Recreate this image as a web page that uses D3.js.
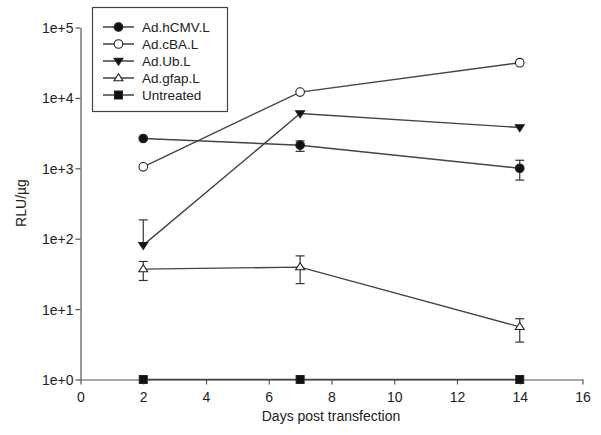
<!DOCTYPE html>
<html><head><meta charset="utf-8">
<script src="https://cdn.jsdelivr.net/npm/d3@7"></script>
<style>body{margin:0;background:#fff}svg{display:block}text{font-family:"Liberation Sans",Arial,sans-serif;fill:#222}</style>
</head><body><svg id="c" width="601" height="435"></svg>
<script>
const days = [2, 7, 14];
const seriesNames = ["Ad.hCMV.L", "Ad.cBA.L", "Ad.Ub.L", "Ad.gfap.L", "Untreated"];
const hCMV = [2650, 2130, 1000];
const hCMVLo = [2650, 1740, 680];
const hCMVHi = [2650, 2450, 1300];
const cBA = [1050, 12100, 31600];
const Ub = [81, 6000, 3800];
const UbLo = [81, 6000, 3800];
const UbHi = [185, 6000, 3800];
const gfap = [37, 39.5, 5.6];
const gfapLo = [25.5, 23, 3.4];
const gfapHi = [47.5, 57, 7.3];
const untreated = [1, 1, 1];
const xTicks = [0, 2, 4, 6, 8, 10, 12, 14, 16];
const yTicks = [1, 10, 100, 1000, 10000, 100000];
const yTickLabels = ["1e+0", "1e+1", "1e+2", "1e+3", "1e+4", "1e+5"];

const series = [
  {name: seriesNames[0], v: hCMV, lo: hCMVLo, hi: hCMVHi, sym: "circle", fill: "#111"},
  {name: seriesNames[1], v: cBA, sym: "circle", fill: "#fff"},
  {name: seriesNames[2], v: Ub, lo: UbLo, hi: UbHi, sym: "tridown", fill: "#111"},
  {name: seriesNames[3], v: gfap, lo: gfapLo, hi: gfapHi, sym: "triup", fill: "#fff"},
  {name: seriesNames[4], v: untreated, sym: "square", fill: "#111"}
];

const svg = d3.select("#c");
const x = d3.scaleLinear().domain([0, 16]).range([80.5, 582.5]);
const y = d3.scaleLog().domain([1, 100000]).range([379.5, 27.5]);

const xAxis = svg.append("g").attr("transform", "translate(0,379.5)")
  .call(d3.axisBottom(x).tickValues(xTicks).tickFormat(d3.format("d")).tickSize(5).tickSizeOuter(0));
const yAxis = svg.append("g").attr("transform", "translate(80.5,0)")
  .call(d3.axisLeft(y).tickValues(yTicks).tickFormat((d, i) => yTickLabels[i]).tickSize(5).tickSizeOuter(0));
[xAxis, yAxis].forEach(a => {
  a.selectAll("path,line").attr("stroke", "#555").attr("stroke-width", 1.2);
  a.selectAll("text").attr("font-size", 14).attr("fill", "#333").attr("font-family", "Liberation Sans, Arial, sans-serif");
});
xAxis.selectAll("text").attr("dy", "1.05em");
yAxis.selectAll("text").attr("dy", "0.35em").attr("x", -7);

svg.append("text").attr("x", 331).attr("y", 421).attr("text-anchor", "middle").attr("font-size", 14).attr("fill", "#333").text("Days post transfection");
svg.append("text").attr("transform", "translate(26,203) rotate(-90)").attr("text-anchor", "middle").attr("font-size", 14).attr("fill", "#333").text("RLU/µg");

function marker(g, sym, fill, cx, cy) {
  if (sym === "circle") {
    g.append("circle").attr("cx", cx).attr("cy", cy).attr("r", 4.3).attr("fill", fill).attr("stroke", "#222").attr("stroke-width", 1.1);
  } else if (sym === "square") {
    g.append("rect").attr("x", cx - 4).attr("y", cy - 4).attr("width", 8).attr("height", 8).attr("fill", fill).attr("stroke", "#222");
  } else {
    const s = 4.5, dir = sym === "triup" ? -1 : 1;
    const p = [[cx - s, cy - dir * s * 0.6], [cx + s, cy - dir * s * 0.6], [cx, cy + dir * s * 0.95]];
    g.append("path").attr("d", d3.line()(p) + "Z").attr("fill", fill).attr("stroke", "#222").attr("stroke-width", 1.1);
  }
}

const line = d3.line().x((d, i) => x(days[i])).y(d => y(d));
series.forEach(s => {
  const g = svg.append("g");
  g.append("path").attr("d", line(s.v)).attr("fill", "none").attr("stroke", "#444").attr("stroke-width", 1.4);
  if (s.lo) {
    days.forEach((dd, i) => {
      if (s.hi[i] === s.lo[i]) return;
      const cx = x(dd);
      g.append("line").attr("x1", cx).attr("x2", cx).attr("y1", y(s.hi[i])).attr("y2", y(s.lo[i])).attr("stroke", "#333").attr("stroke-width", 1.2);
      [s.hi[i], s.lo[i]].forEach(v => {
        if (v === s.v[i]) return;
        g.append("line").attr("x1", cx - 4.5).attr("x2", cx + 4.5).attr("y1", y(v)).attr("y2", y(v)).attr("stroke", "#333").attr("stroke-width", 1.2);
      });
    });
  }
  days.forEach((dd, i) => marker(g, s.sym, s.fill, x(dd), y(s.v[i])));
});

// legend
const lg = svg.append("g");
lg.append("rect").attr("x", 92.5).attr("y", 7.5).attr("width", 135).attr("height", 104).attr("fill", "#fff").attr("stroke", "#444").attr("stroke-width", 1.2);
series.forEach((s, i) => {
  const cy = 27 + i * 17;
  lg.append("line").attr("x1", 103).attr("x2", 134).attr("y1", cy).attr("y2", cy).attr("stroke", "#333").attr("stroke-width", 1.4);
  marker(lg, s.sym, s.fill, 118.5, cy);
  lg.append("text").attr("x", 142).attr("y", cy).attr("dy", "0.36em").attr("font-size", 13.5).attr("fill", "#333").text(s.name);
});
</script></body></html>
